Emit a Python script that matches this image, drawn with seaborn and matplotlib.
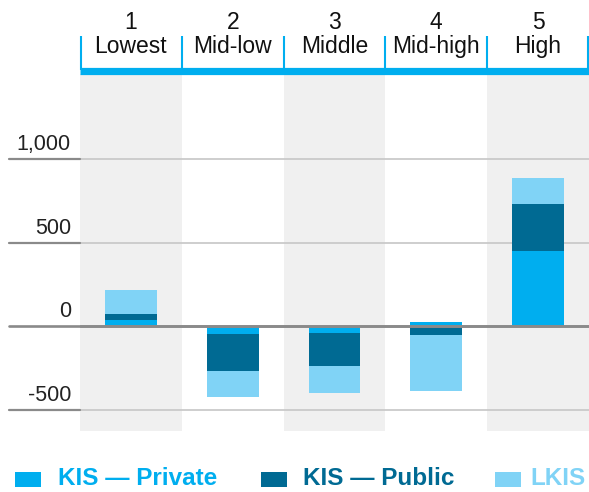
import matplotlib
matplotlib.use("Agg")
import matplotlib.pyplot as plt
import matplotlib.transforms as mtransforms
from matplotlib.lines import Line2D
from matplotlib.patches import Rectangle
import seaborn as sns

# quintile groups along the x axis
group_numbers = ["1", "2", "3", "4", "5"]
group_names = ["Lowest", "Mid-low", "Middle", "Mid-high", "High"]

# stacked series
kis_private = [40, -44, -38, 25, 448]
kis_public = [32, -222, -198, -54, 282]
lkis = [144, -156, -162, -336, 156]

series_names = ["KIS \u2014 Private", "KIS \u2014 Public", "LKIS"]
series_colors = ["#00AEEF", "#006A93", "#80D3F6"]

ytick_values = [1000, 500, 0, -500]
ytick_labels = ["1,000", "500", "0", "-500"]

sns.set_theme(style="white")
plt.rcParams["font.family"] = ["Liberation Sans", "DejaVu Sans"]

W, H = 589, 492
fig = plt.figure(figsize=(W / 100, H / 100), dpi=100)
ax_left, ax_right, ax_top, ax_bottom = 80, 589, 74, 431
ax = fig.add_axes([ax_left / W, 1 - ax_bottom / H, (ax_right - ax_left) / W, (ax_bottom - ax_top) / H])

# shaded alternate columns
for i in range(0, len(group_names), 2):
    ax.axvspan(i - 0.5, i + 0.5, color="#F0F0F0", lw=0, zorder=0)

# light gridlines inside the plot
for v in ytick_values:
    if v != 0:
        ax.axhline(v, color="#C6C6C6", lw=1.2, zorder=1)

# stacked bars, positives up from zero and negatives down from zero
pos_base = [0.0] * len(group_names)
neg_base = [0.0] * len(group_names)
for values, color in zip([kis_private, kis_public, lkis], series_colors):
    bottoms = []
    for i, v in enumerate(values):
        if v >= 0:
            bottoms.append(pos_base[i])
            pos_base[i] += v
        else:
            bottoms.append(neg_base[i])
            neg_base[i] += v
    sns.barplot(x=group_names, y=values, order=group_names, color=color,
                saturation=1, width=0.51, errorbar=None, bottom=bottoms,
                linewidth=0, ax=ax, zorder=2)

ax.axhline(0, color="#8A8A8A", lw=1.9, zorder=3)

ax.set_xlim(-0.5, len(group_names) - 0.5)
ax.set_ylim(-628, 1512)
ax.axis("off")

# y tick labels above the gridlines plus the darker stubs on the left
ytrans = mtransforms.blended_transform_factory(fig.transFigure, ax.transData)
lift = mtransforms.ScaledTranslation(0, 9 / 100, fig.dpi_scale_trans)
for v, lab in zip(ytick_values, ytick_labels):
    fig.text(71 / W, v, lab, transform=ytrans + lift, ha="right", va="baseline",
             fontsize=15.5, color="#222222")
    x_end = 1.0 if v == 0 else ax_left / W
    fig.add_artist(Line2D([9 / W, x_end], [v, v], transform=ytrans,
                          color="#8A8A8A", lw=1.9 if v == 0 else 1.6))

# header: labels, blue rule and separators
xtrans = mtransforms.blended_transform_factory(ax.transData, fig.transFigure)
for i, (num, name) in enumerate(zip(group_numbers, group_names)):
    fig.text(i, 1 - 29 / H, num, transform=xtrans, ha="center", va="baseline",
             fontsize=16.5, color="#111111")
    fig.text(i, 1 - 53 / H, name, transform=xtrans, ha="center", va="baseline",
             fontsize=16.5, color="#111111")
fig.add_artist(Line2D([ax_left / W, 1.0], [1 - 70.5 / H, 1 - 70.5 / H],
                      color="#00AEEF", lw=5.2, solid_capstyle="butt"))
for b in range(len(group_names) + 1):
    xb = b - 0.5
    if b == len(group_names):
        xb -= 0.01
    elif b == 0:
        xb += 0.01
    fig.add_artist(Line2D([xb, xb], [1 - 36 / H, 1 - 70 / H], transform=xtrans,
                          color="#00AEEF", lw=1.5, solid_capstyle="butt"))

# legend along the bottom
legend_square_x = [15, 261, 495]
legend_text_x = [58, 303, 530]
for sx, tx, name, color in zip(legend_square_x, legend_text_x, series_names, series_colors):
    fig.add_artist(Rectangle((sx / W, 1 - 487 / H), 26 / W, 15 / H,
                             transform=fig.transFigure, color=color, lw=0))
    fig.text(tx / W, 1 - 485 / H, name, ha="left", va="baseline", fontsize=17.5,
             fontweight="bold", color=color)

fig.savefig("out.png", dpi=100)
